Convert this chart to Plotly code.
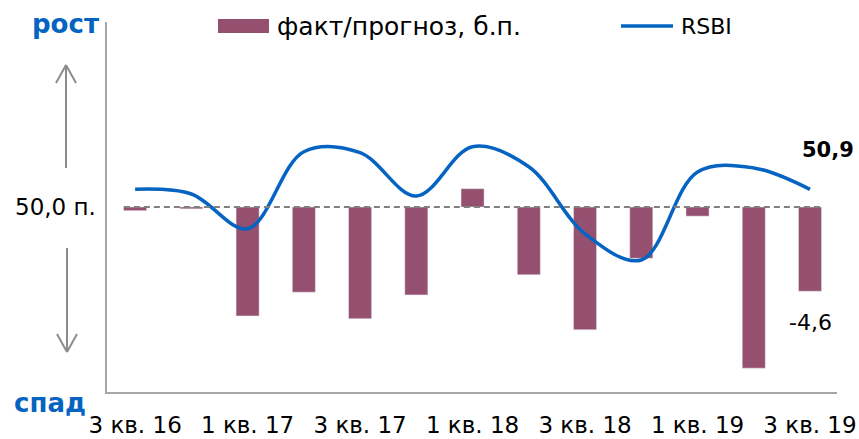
import plotly.graph_objects as go

quarters = ["3 кв. 16", "4 кв. 16", "1 кв. 17", "2 кв. 17", "3 кв. 17", "4 кв. 17",
            "1 кв. 18", "2 кв. 18", "3 кв. 18", "4 кв. 18", "1 кв. 19", "2 кв. 19", "3 кв. 19"]
fact_vs_forecast = [-0.2, -0.1, -5.95, -4.65, -6.1, -4.8, 1.0, -3.7, -6.7, -2.8, -0.5, -8.8, -4.6]
rsbi = [50.9, 50.66, 48.86, 52.85, 52.8, 50.55, 53.11, 52.07, 48.59, 47.24, 51.8, 52.01, 50.9]
tick_labels = quarters[::2]

W, H = 859, 439
PL, PR, PT, PB = 107, 837, 22, 392          # plot area in pixels
ML, MR, MT, MB = PL, W - PR, PT, H - PB
PW, PH = PR - PL, PB - PT


def px(x):
    return (x - PL) / PW


def py(y):
    return (PB - y) / PH


BLUE = "#0563C1"
BAR = "#955070"
GRAY = "#8C8C8C"
FONT = "DejaVu Sans"

fig = go.Figure()
fig.add_trace(go.Bar(x=quarters, y=fact_vs_forecast, marker_color=BAR, width=0.41,
                     name="факт/прогноз, б.п.", yaxis="y"))
fig.add_trace(go.Scatter(x=quarters, y=rsbi, mode="lines", name="RSBI",
                         line=dict(color=BLUE, width=3.5, shape="spline", smoothing=1.0),
                         yaxis="y2"))

shapes = [
    dict(type="line", xref="x", yref="y", x0=-0.2, x1=12.2, y0=0, y1=0,
         line=dict(color="#808080", width=2, dash="6px,4px"), layer="above"),
    # up arrow
    dict(type="line", xref="paper", yref="paper", x0=px(66), x1=px(66), y0=py(168), y1=py(66),
         line=dict(color=GRAY, width=2)),
    dict(type="line", xref="paper", yref="paper", x0=px(56), x1=px(66), y0=py(83), y1=py(65),
         line=dict(color=GRAY, width=2)),
    dict(type="line", xref="paper", yref="paper", x0=px(76), x1=px(66), y0=py(83), y1=py(65),
         line=dict(color=GRAY, width=2)),
    # down arrow
    dict(type="line", xref="paper", yref="paper", x0=px(67), x1=px(67), y0=py(248), y1=py(351),
         line=dict(color=GRAY, width=2)),
    dict(type="line", xref="paper", yref="paper", x0=px(57), x1=px(67), y0=py(334), y1=py(352),
         line=dict(color=GRAY, width=2)),
    dict(type="line", xref="paper", yref="paper", x0=px(77), x1=px(67), y0=py(334), y1=py(352),
         line=dict(color=GRAY, width=2)),
    # legend symbols
    dict(type="rect", xref="paper", yref="paper", x0=px(218), x1=px(269), y0=py(33), y1=py(19),
         fillcolor=BAR, line=dict(width=0)),
    dict(type="line", xref="paper", yref="paper", x0=px(621), x1=px(673), y0=py(26), y1=py(26),
         line=dict(color=BLUE, width=3.5)),
]

annotations = [
    dict(text="факт/прогноз, б.п.", x=px(275), y=py(27), xanchor="left", yanchor="middle",
         font=dict(size=25, color="black")),
    dict(text="RSBI", x=px(679), y=py(27), xanchor="left", yanchor="middle",
         font=dict(size=22, color="black")),
    dict(text="<b>рост</b>", x=px(65), y=py(24), xanchor="center", yanchor="middle",
         font=dict(size=26, color=BLUE)),
    dict(text="<b>спад</b>", x=px(50), y=py(403), xanchor="center", yanchor="middle",
         font=dict(size=26, color=BLUE)),
    dict(text="50,0 п.", x=px(98), y=py(207), xanchor="right", yanchor="middle",
         font=dict(size=23, color="black")),
    dict(text="<b>50,9</b>", x=px(828), y=py(150), xanchor="center", yanchor="middle",
         font=dict(size=21, color="black")),
    dict(text="-4,6", x=px(810), y=py(322), xanchor="center", yanchor="middle",
         font=dict(size=22, color="black")),
]
for a in annotations:
    a.update(xref="paper", yref="paper", showarrow=False)

fig.update_layout(
    width=W, height=H,
    margin=dict(l=ML, r=MR, t=MT, b=MB, pad=0, autoexpand=False),
    plot_bgcolor="white", paper_bgcolor="white",
    font=dict(family=FONT, color="black"),
    showlegend=False,
    bargap=0.59,
    xaxis=dict(type="category", range=[-0.5, 12.48], tickmode="array", tickvals=tick_labels,
               ticktext=tick_labels, ticks="", showline=True, linecolor="#A6A6A6", linewidth=1.5,
               showgrid=False, zeroline=False, ticklabelstandoff=12, automargin=False,
               tickfont=dict(size=23, color="black")),
    yaxis=dict(range=[-10.1, 10.1], showline=True, linecolor="#A6A6A6", linewidth=1.5,
               showticklabels=False, ticks="", showgrid=False, zeroline=False, automargin=False),
    yaxis2=dict(range=[40.40, 59.57], overlaying="y", visible=False, showgrid=False,
                zeroline=False, automargin=False),
    shapes=shapes,
    annotations=annotations,
)

fig.write_html(
    "out.html",
    config={"displayModeBar": False},
    post_script="document.body.style.margin='0';document.documentElement.style.overflow='hidden';",
)
